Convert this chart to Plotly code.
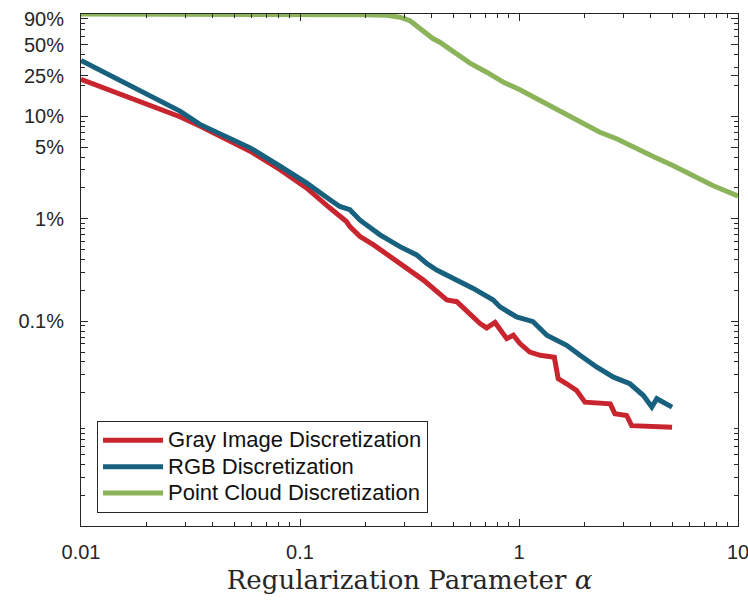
import numpy as np
import plotly.graph_objects as go

# Regularization parameter alpha and fraction of retained points per method
gray_alpha = [0.01, 0.0283, 0.0349, 0.0432, 0.0592, 0.0811, 0.107, 0.137, 0.152, 0.163,
              0.169, 0.188, 0.216, 0.240, 0.286, 0.366, 0.468, 0.520, 0.664, 0.712, 0.777, 0.848,
              0.879, 0.942, 1.01, 1.12, 1.25, 1.45, 1.51, 1.65, 1.83, 2.00,
              2.61, 2.74, 3.10, 3.27, 5.0]
gray_frac = [0.230, 0.0993, 0.0804, 0.0632, 0.0457, 0.0302, 0.0200, 0.01274, 0.01054, 0.00941,
             0.0084, 0.00670, 0.0056, 0.00478, 0.00368, 0.00252, 0.00161, 0.00155, 0.000949, 0.00086,
             0.000971, 0.000757, 0.000676, 0.000729, 0.000604, 0.000500, 0.000464, 0.000445,
             0.000274, 0.000245, 0.000211, 0.000162,
             0.000156, 0.000125, 0.000120, 0.0000955, 0.0000920]

rgb_alpha = [0.01, 0.0283, 0.0349, 0.0432, 0.0592, 0.0811, 0.107, 0.137, 0.152, 0.169,
             0.188, 0.232, 0.286, 0.341, 0.378, 0.421, 0.520, 0.618, 0.763, 0.819, 0.975,
             1.16, 1.34, 1.65, 1.90, 2.26, 2.70, 3.21, 3.70, 4.04, 4.26, 4.72, 5.0]
rgb_frac = [0.352, 0.1127, 0.0835, 0.0667, 0.0493, 0.0326, 0.0224, 0.01535, 0.0132, 0.01226,
            0.0097, 0.00697, 0.00535, 0.00444, 0.00368, 0.00316, 0.00252, 0.00209, 0.00161, 0.00138,
            0.00110, 0.00099, 0.000729, 0.000582, 0.000464, 0.000357, 0.000284, 0.000245, 0.000188,
            0.000145, 0.000175, 0.000156, 0.000145]

cloud_alpha = [0.01, 0.05, 0.1, 0.15, 0.2, 0.25, 0.286, 0.318, 0.353, 0.404,
               0.435, 0.511, 0.597, 0.712, 0.847, 1.01, 1.25, 1.49, 1.77, 2.34,
               2.79, 3.33, 4.1, 5.07, 6.25, 7.71, 9.86, 10.0]
cloud_frac = [1.0, 1.0, 1.0, 0.995, 0.985, 0.97, 0.93, 0.86, 0.717, 0.576,
              0.53, 0.41, 0.331, 0.27, 0.216, 0.182, 0.143, 0.114, 0.095, 0.070,
              0.0606, 0.050, 0.0405, 0.033, 0.0265, 0.021, 0.0169, 0.0165]

series_names = ["Gray Image Discretization", "RGB Discretization", "Point Cloud Discretization"]
series_colors = ["#C9252F", "#17607E", "#8BB35A"]

y_tickvals = [0.9, 0.5, 0.25, 0.1, 0.05, 0.01, 0.001]
y_ticktext = ["90%", "50%", "25%", "10%", "5%", "1%", "0.1%"]
x_tickvals = [0.01, 0.1, 1, 10]
x_ticktext = ["0.01", "0.1", "1", "10"]

minor_x = [k * 10.0 ** e for e in range(-2, 1) for k in range(2, 10)]
minor_y = [k * 10.0 ** e for e in range(-5, 0) for k in range(2, 10)
           if not any(abs(k * 10.0 ** e - v) < 1e-12 for v in y_tickvals)]

fig = go.Figure()
for xs, ys, name, color in zip([gray_alpha, rgb_alpha, cloud_alpha],
                               [gray_frac, rgb_frac, cloud_frac],
                               series_names, series_colors):
    fig.add_trace(go.Scatter(x=xs, y=ys, mode="lines",
                             name=f'<span style="font-size:22px">{name}</span>',
                             line=dict(color=color, width=5), cliponaxis=False))

axis_color = "#262626"
tick_font = dict(family="Liberation Sans, Arial, sans-serif", size=20, color=axis_color)

fig.update_xaxes(type="log", range=[-2.00001, 1.00001], tickvals=x_tickvals, ticktext=x_ticktext,
                 ticks="inside", ticklen=7, tickwidth=1, tickcolor=axis_color,
                 showline=True, linecolor=axis_color, linewidth=1, mirror="allticks",
                 showgrid=False, zeroline=False, tickfont=tick_font, ticklabelstandoff=8,
                 ticklabeloverflow="allow", automargin=False,
                 minor=dict(tickvals=minor_x, ticks="inside", ticklen=4, tickcolor=axis_color, showgrid=False),
                 title=dict(text="Regularization Parameter <i>α</i>", standoff=8,
                            font=dict(family="DejaVu Serif, serif", size=26, color=axis_color)))
fig.update_yaxes(type="log", range=[-5, 0], tickvals=y_tickvals, ticktext=y_ticktext,
                 ticks="inside", ticklen=7, tickwidth=1, tickcolor=axis_color,
                 showline=True, linecolor=axis_color, linewidth=1, mirror="allticks",
                 showgrid=False, zeroline=False, tickfont=tick_font, ticklabelstandoff=12,
                 automargin=False,
                 minor=dict(tickvals=minor_y, ticks="inside", ticklen=4, tickcolor=axis_color, showgrid=False))

fig.update_layout(
    width=748, height=601,
    margin=dict(l=81, r=10, t=14, b=75),
    plot_bgcolor="white", paper_bgcolor="white",
    legend=dict(x=0.0244, y=0.205, xanchor="left", yanchor="top",
                bordercolor="#262626", borderwidth=1, bgcolor="white",
                font=dict(family="Liberation Sans, Arial, sans-serif", size=18, color="#111111"),
                itemwidth=60, tracegroupgap=0),
)

fig.write_html("out.html")
